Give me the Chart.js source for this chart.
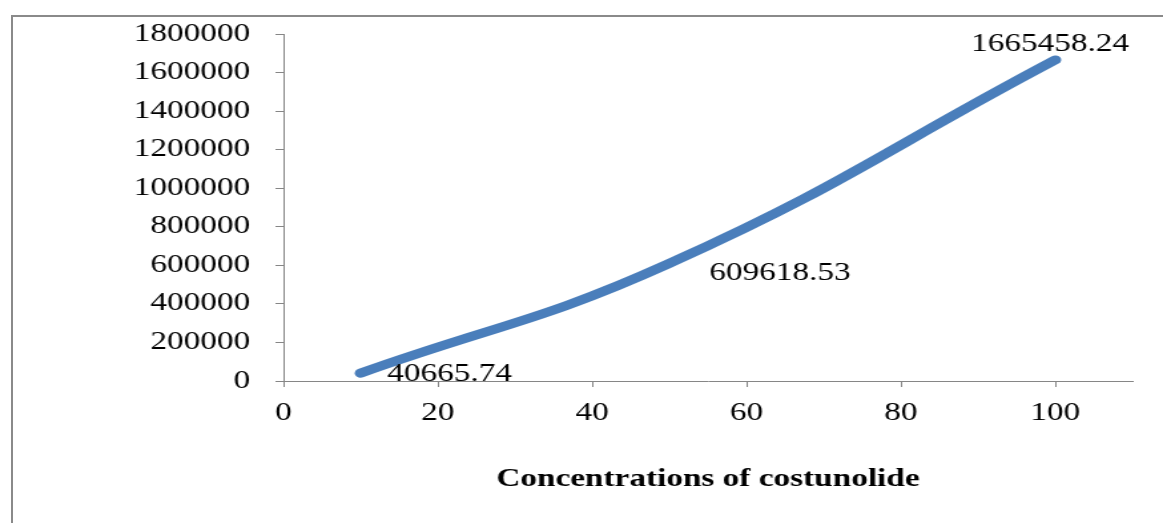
<!DOCTYPE html>
<html>
<head>
<meta charset="utf-8">
<script src="https://cdn.jsdelivr.net/npm/chart.js@4/dist/chart.umd.min.js"></script>
<style>
  html, body { margin: 0; padding: 0; background: #fff; overflow: hidden; }
  #frame {
    position: absolute; left: 11px; top: 15px; width: 1300px; height: 700px;
    border-left: 2px solid #8a8a8a; border-top: 2px solid #8a8a8a;
  }
  /* the original picture is stretched sideways, so the chart is drawn narrow and scaled */
  #wrap {
    position: absolute; left: 0; top: 0; width: 874px; height: 523px;
    transform: scaleX(1.3307); transform-origin: 0 0;
  }
</style>
</head>
<body>
<div id="frame"></div>
<div id="wrap"><canvas id="grafico"></canvas></div>
<script>
// concentrations (x) and measured responses (y)
const concentracoes = [10, 50, 100]
const respostas = [40665.74, 609618.53, 1665458.24]
const rotulos = ['40665.74', '609618.53', '1665458.24']
const ticksX = [0, 20, 40, 60, 80, 100]

const fonte = 'Liberation Serif, Times New Roman, serif'

// draws the value labels next to the points
const rotulosPlugin = {
  id: 'rotulos',
  afterDatasetsDraw(chart, args, opts) {
    const ctx = chart.ctx
    const pontos = chart.getDatasetMeta(0).data
    ctx.save()
    ctx.font = '25px ' + fonte
    ctx.fillStyle = '#000'
    ctx.textBaseline = 'middle'
    pontos.forEach((p, i) => {
      const o = opts.offsets[i]
      ctx.textAlign = o.align
      ctx.fillText(rotulos[i], p.x + o.dx, p.y + o.dy)
    })
    ctx.restore()
  }
}

new Chart(document.getElementById('grafico'), {
  type: 'scatter',
  data: {
    datasets: [
      {
        data: concentracoes.map((x, i) => ({ x: x, y: respostas[i] })),
        showLine: true,
        borderColor: '#4a7ebb',
        borderWidth: 9,
        borderCapStyle: 'round',
        tension: 0.45,
        pointRadius: 0
      }
    ]
  },
  options: {
    responsive: true,
    maintainAspectRatio: false,
    animation: false,
    layout: { padding: { left: 81.5, right: 23, top: 34, bottom: 28 } },
    plugins: {
      legend: { display: false },
      tooltip: { enabled: false },
      rotulos: {
        offsets: [
          { dx: 20, dy: 1, align: 'left' },
          { dx: 30, dy: 10, align: 'left' },
          { dx: -4, dy: -15, align: 'center' }
        ]
      }
    },
    scales: {
      x: {
        type: 'linear',
        min: 0,
        max: 110,
        afterBuildTicks: (scale) => {
          scale.ticks = ticksX.map(v => ({ value: v }))
        },
        border: { color: '#868686', width: 1 },
        grid: { drawOnChartArea: false, tickLength: 6, color: '#868686' },
        ticks: {
          color: '#000',
          padding: 11,
          maxRotation: 0,
          font: { family: fonte, size: 25 },
          callback: (v) => String(v)
        },
        title: {
          display: true,
          text: 'Concentrations of costunolide',
          color: '#000',
          font: { family: fonte, size: 25, weight: 'bold' },
          padding: { top: 26, bottom: 0 }
        }
      },
      y: {
        min: 0,
        max: 1800000,
        border: { color: '#868686', width: 1 },
        grid: { drawOnChartArea: false, tickLength: 6, color: '#868686' },
        ticks: {
          stepSize: 200000,
          color: '#000',
          padding: 19,
          font: { family: fonte, size: 25 },
          callback: (v) => String(v)
        }
      }
    }
  },
  plugins: [rotulosPlugin]
})
</script>
</body>
</html>
